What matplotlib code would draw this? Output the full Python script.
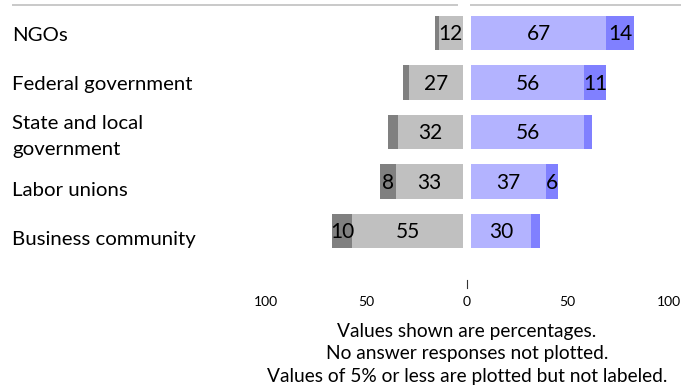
import matplotlib
matplotlib.use("Agg")
import matplotlib.pyplot as plt
import numpy as np

# Survey results (percent)
categories = [
    "NGOs",
    "Federal government",
    "State and local\ngovernment",
    "Labor unions",
    "Business community",
]
oppose_strong = [2, 3, 5, 8, 10]
oppose_some = [12, 27, 32, 33, 55]
support_some = [67, 56, 56, 37, 30]
support_strong = [14, 11, 4, 6, 4]

tick_values = [100, 50, 0, 50, 100]
tick_sides = [-1, -1, 0, 1, 1]

notes = [
    "Values shown are percentages.",
    "No answer responses not plotted.",
    "Values of 5% or less are plotted but not labeled.",
]

LIGHT_GRAY = "#c0c0c0"
DARK_GRAY = "#808080"
LIGHT_BLUE = "#b3b3ff"
DARK_BLUE = "#8080ff"
LINE_GRAY = "#c0c0c0"

GAP = 2          # half of the white gap around zero, in percent units
BAR_H = 0.69
MIN_LABEL = 5    # values of 5% or less are not labeled

plt.rcParams["font.family"] = ["Lato", "DejaVu Sans"]


def label_segment(ax, x, y, value):
    if value > MIN_LABEL:
        ax.text(x, y + 0.15, str(value), ha="center", va="baseline",
                fontsize=15, color="black")


def main():
    fig = plt.figure(figsize=(6.81, 3.87), dpi=100)
    ax = fig.add_axes([0, 0, 1, 1])
    ax.axis("off")
    # about 2 px per percent, one row every ~49.5 px
    ax.set_xlim(-467 / 2.015, (681 - 467) / 2.015)
    ax.set_ylim((387 - 33) / 49.5, -33 / 49.5)

    y = np.arange(len(categories))
    o_some = np.array(oppose_some)
    o_strong = np.array(oppose_strong)
    s_some = np.array(support_some)
    s_strong = np.array(support_strong)

    # left side (gray)
    ax.barh(y, o_some, left=-GAP - o_some, height=BAR_H, color=LIGHT_GRAY)
    ax.barh(y, o_strong, left=-GAP - o_some - o_strong, height=BAR_H, color=DARK_GRAY)
    # right side (blue)
    ax.barh(y, s_some, left=GAP, height=BAR_H, color=LIGHT_BLUE)
    ax.barh(y, s_strong, left=GAP + s_some, height=BAR_H, color=DARK_BLUE)

    for i in range(len(categories)):
        label_segment(ax, -GAP - o_some[i] / 2, y[i], o_some[i])
        label_segment(ax, -GAP - o_some[i] - o_strong[i] / 2, y[i], o_strong[i])
        label_segment(ax, GAP + s_some[i] / 2, y[i], s_some[i])
        label_segment(ax, GAP + s_some[i] + s_strong[i] / 2, y[i], s_strong[i])

    # category labels
    label_offsets = [0.06, 0.04, 0.1, 0.18, 0.18]
    for i, cat in enumerate(categories):
        ax.text(-467 / 2.015 + 12 / 2.015, y[i] + label_offsets[i], cat,
                ha="left", va="center", fontsize=14.7, color="black",
                linespacing=1.65)

    # top rule (split at zero)
    top_y = (4.7 - 33) / 49.5
    ax.plot([-226, -4.5], [top_y, top_y], color=LINE_GRAY, lw=1.2,
            solid_capstyle="butt")
    ax.plot([1.5, 110], [top_y, top_y], color=LINE_GRAY, lw=1.2,
            solid_capstyle="butt")

    # axis: small tick at zero and labels
    ax.plot([0, 0], [(280 - 33) / 49.5, (288 - 33) / 49.5], color="#333333", lw=0.8)
    tick_y = (306 - 33) / 49.5
    for v, side in zip(tick_values, tick_sides):
        ax.text(side * v, tick_y, str(v), ha="center", va="baseline",
                fontsize=10, color="black")

    # notes
    for k, note in enumerate(notes):
        ax.text(0, (336.7 - 33) / 49.5 + k * 0.455, note, ha="center",
                va="baseline", fontsize=13.8, color="black")

    fig.savefig("out.png", dpi=100)
    plt.close(fig)


if __name__ == "__main__":
    main()
